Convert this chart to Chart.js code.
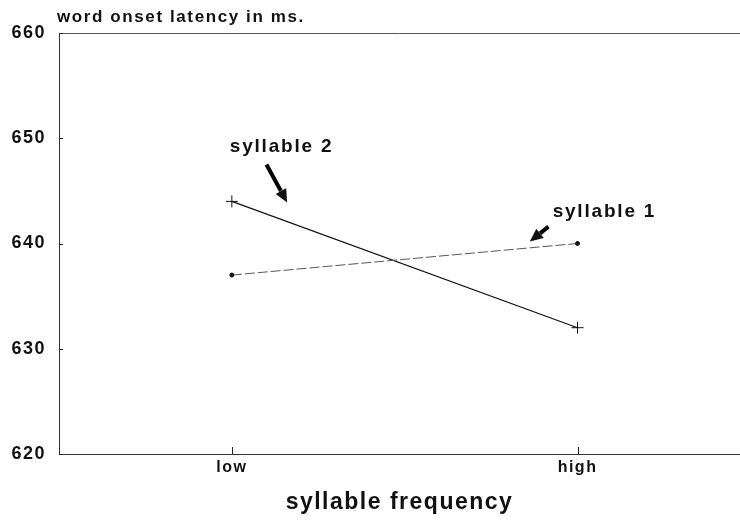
<!DOCTYPE html>
<html>
<head>
<meta charset="utf-8">
<script src="https://cdn.jsdelivr.net/npm/chart.js@4.4.1/dist/chart.umd.min.js"></script>
<style>
  html, body { margin: 0; padding: 0; background: #fff; }
  #wrap { width: 740px; height: 520px; }
</style>
</head>
<body>
<div id="wrap"><canvas id="myChart"></canvas></div>
<script>
// values
var categories = ['low', 'high'];
var syllable1 = [637, 640];
var syllable2 = [644, 632];
var seriesNames = ['syllable 1', 'syllable 2'];
var yTicks = [620, 630, 640, 650, 660];
var yTitle = 'word onset latency in ms.';
var xTitle = 'syllable frequency';

var FONT = '"Liberation Sans", Arial, sans-serif';

// arrows + labels, placed in data units
var notes = [
    { text: seriesNames[1], tx: 0.994, ty: 649.2, from: [1.10, 647.5], to: [1.16, 643.9] },
    { text: seriesNames[0], tx: 1.928, ty: 643.0, from: [1.916, 641.6], to: [1.862, 640.2] }
];

function toPoints(vals) {
    return vals.map(function (v, i) { return { x: i + 1, y: v }; });
}

var extras = {
    id: 'extras',
    beforeDraw: function (chart) {
        chart.ctx.letterSpacing = '1.5px';
    },
    afterDraw: function (chart) {
        var ctx = chart.ctx, a = chart.chartArea;
        var xs = chart.scales.x, ys = chart.scales.y;
        ctx.save();
        // top frame line
        ctx.strokeStyle = '#555';
        ctx.lineWidth = 1;
        ctx.beginPath();
        ctx.moveTo(a.left, a.top + 0.5);
        ctx.lineTo(a.right, a.top + 0.5);
        ctx.stroke();
        // small tick marks pointing into the plot
        ctx.strokeStyle = '#222';
        categories.forEach(function (c, i) {
            var px = Math.round(xs.getPixelForValue(i + 1)) + 0.5;
            ctx.beginPath();
            ctx.moveTo(px, a.bottom);
            ctx.lineTo(px, a.bottom - 7);
            ctx.stroke();
        });
        yTicks.forEach(function (v) {
            var py = Math.round(ys.getPixelForValue(v)) + 0.5;
            ctx.beginPath();
            ctx.moveTo(a.left, py);
            ctx.lineTo(a.left + 4, py);
            ctx.stroke();
        });
        // y title at top left
        ctx.fillStyle = '#111';
        ctx.letterSpacing = '1.6px';
        ctx.font = 'bold 17px ' + FONT;
        ctx.textAlign = 'left';
        ctx.textBaseline = 'middle';
        ctx.fillText(yTitle, 57, 17);
        // annotations
        ctx.font = 'bold 19px ' + FONT;
        ctx.letterSpacing = '1.8px';
        notes.forEach(function (n) {
            ctx.fillText(n.text, xs.getPixelForValue(n.tx), ys.getPixelForValue(n.ty));
            var x1 = xs.getPixelForValue(n.from[0]), y1 = ys.getPixelForValue(n.from[1]);
            var x2 = xs.getPixelForValue(n.to[0]), y2 = ys.getPixelForValue(n.to[1]);
            var ang = Math.atan2(y2 - y1, x2 - x1);
            var hl = 13, hw = 6;
            var bx = x2 - hl * Math.cos(ang), by = y2 - hl * Math.sin(ang);
            ctx.strokeStyle = '#000';
            ctx.lineWidth = 4;
            ctx.beginPath();
            ctx.moveTo(x1, y1);
            ctx.lineTo(bx, by);
            ctx.stroke();
            ctx.beginPath();
            ctx.moveTo(x2, y2);
            ctx.lineTo(bx + hw * Math.sin(ang), by - hw * Math.cos(ang));
            ctx.lineTo(bx - hw * Math.sin(ang), by + hw * Math.cos(ang));
            ctx.closePath();
            ctx.fill();
        });
        ctx.restore();
    }
};

var ctx = document.getElementById('myChart').getContext('2d');
var myChart = new Chart(ctx, {
    type: 'line',
    data: {
        datasets: [
            {
                label: seriesNames[0],
                data: toPoints(syllable1),
                borderColor: '#555',
                borderWidth: 1,
                borderDash: [10, 3],
                pointStyle: 'circle',
                pointRadius: 2,
                pointBackgroundColor: '#111',
                pointBorderColor: '#111'
            },
            {
                label: seriesNames[1],
                data: toPoints(syllable2),
                borderColor: '#111',
                borderWidth: 1.2,
                pointStyle: 'cross',
                pointRadius: 6,
                pointBorderWidth: 1,
                pointBorderColor: '#111'
            }
        ]
    },
    options: {
        responsive: true,
        maintainAspectRatio: false,
        animation: false,
        layout: { autoPadding: false, padding: { top: 33, right: 0, left: 0, bottom: 0 } },
        plugins: { legend: { display: false }, tooltip: { enabled: false } },
        scales: {
            x: {
                type: 'linear',
                min: 0.5,
                max: 2.47,
                grid: { display: false },
                border: { color: '#333', width: 1 },
                afterBuildTicks: function (s) {
                    s.ticks = categories.map(function (c, i) { return { value: i + 1 }; });
                },
                afterFit: function (s) { s.height = 66; },
                ticks: {
                    color: '#111',
                    padding: -4,
                    font: { family: FONT, size: 16, weight: 'bold' },
                    callback: function (v) { return categories[v - 1]; }
                },
                title: {
                    display: true,
                    text: xTitle,
                    color: '#111',
                    padding: { top: 8 },
                    font: { family: FONT, size: 23, weight: 'bold' }
                }
            },
            y: {
                min: 620,
                max: 660,
                grid: { display: false },
                border: { color: '#333', width: 1 },
                afterBuildTicks: function (s) {
                    s.ticks = yTicks.map(function (v) { return { value: v }; });
                },
                afterFit: function (s) { s.width = 59; },
                ticks: {
                    color: '#111',
                    padding: 5,
                    font: { family: FONT, size: 18, weight: 'bold' }
                }
            }
        }
    },
    plugins: [extras]
});
</script>
</body>
</html>
